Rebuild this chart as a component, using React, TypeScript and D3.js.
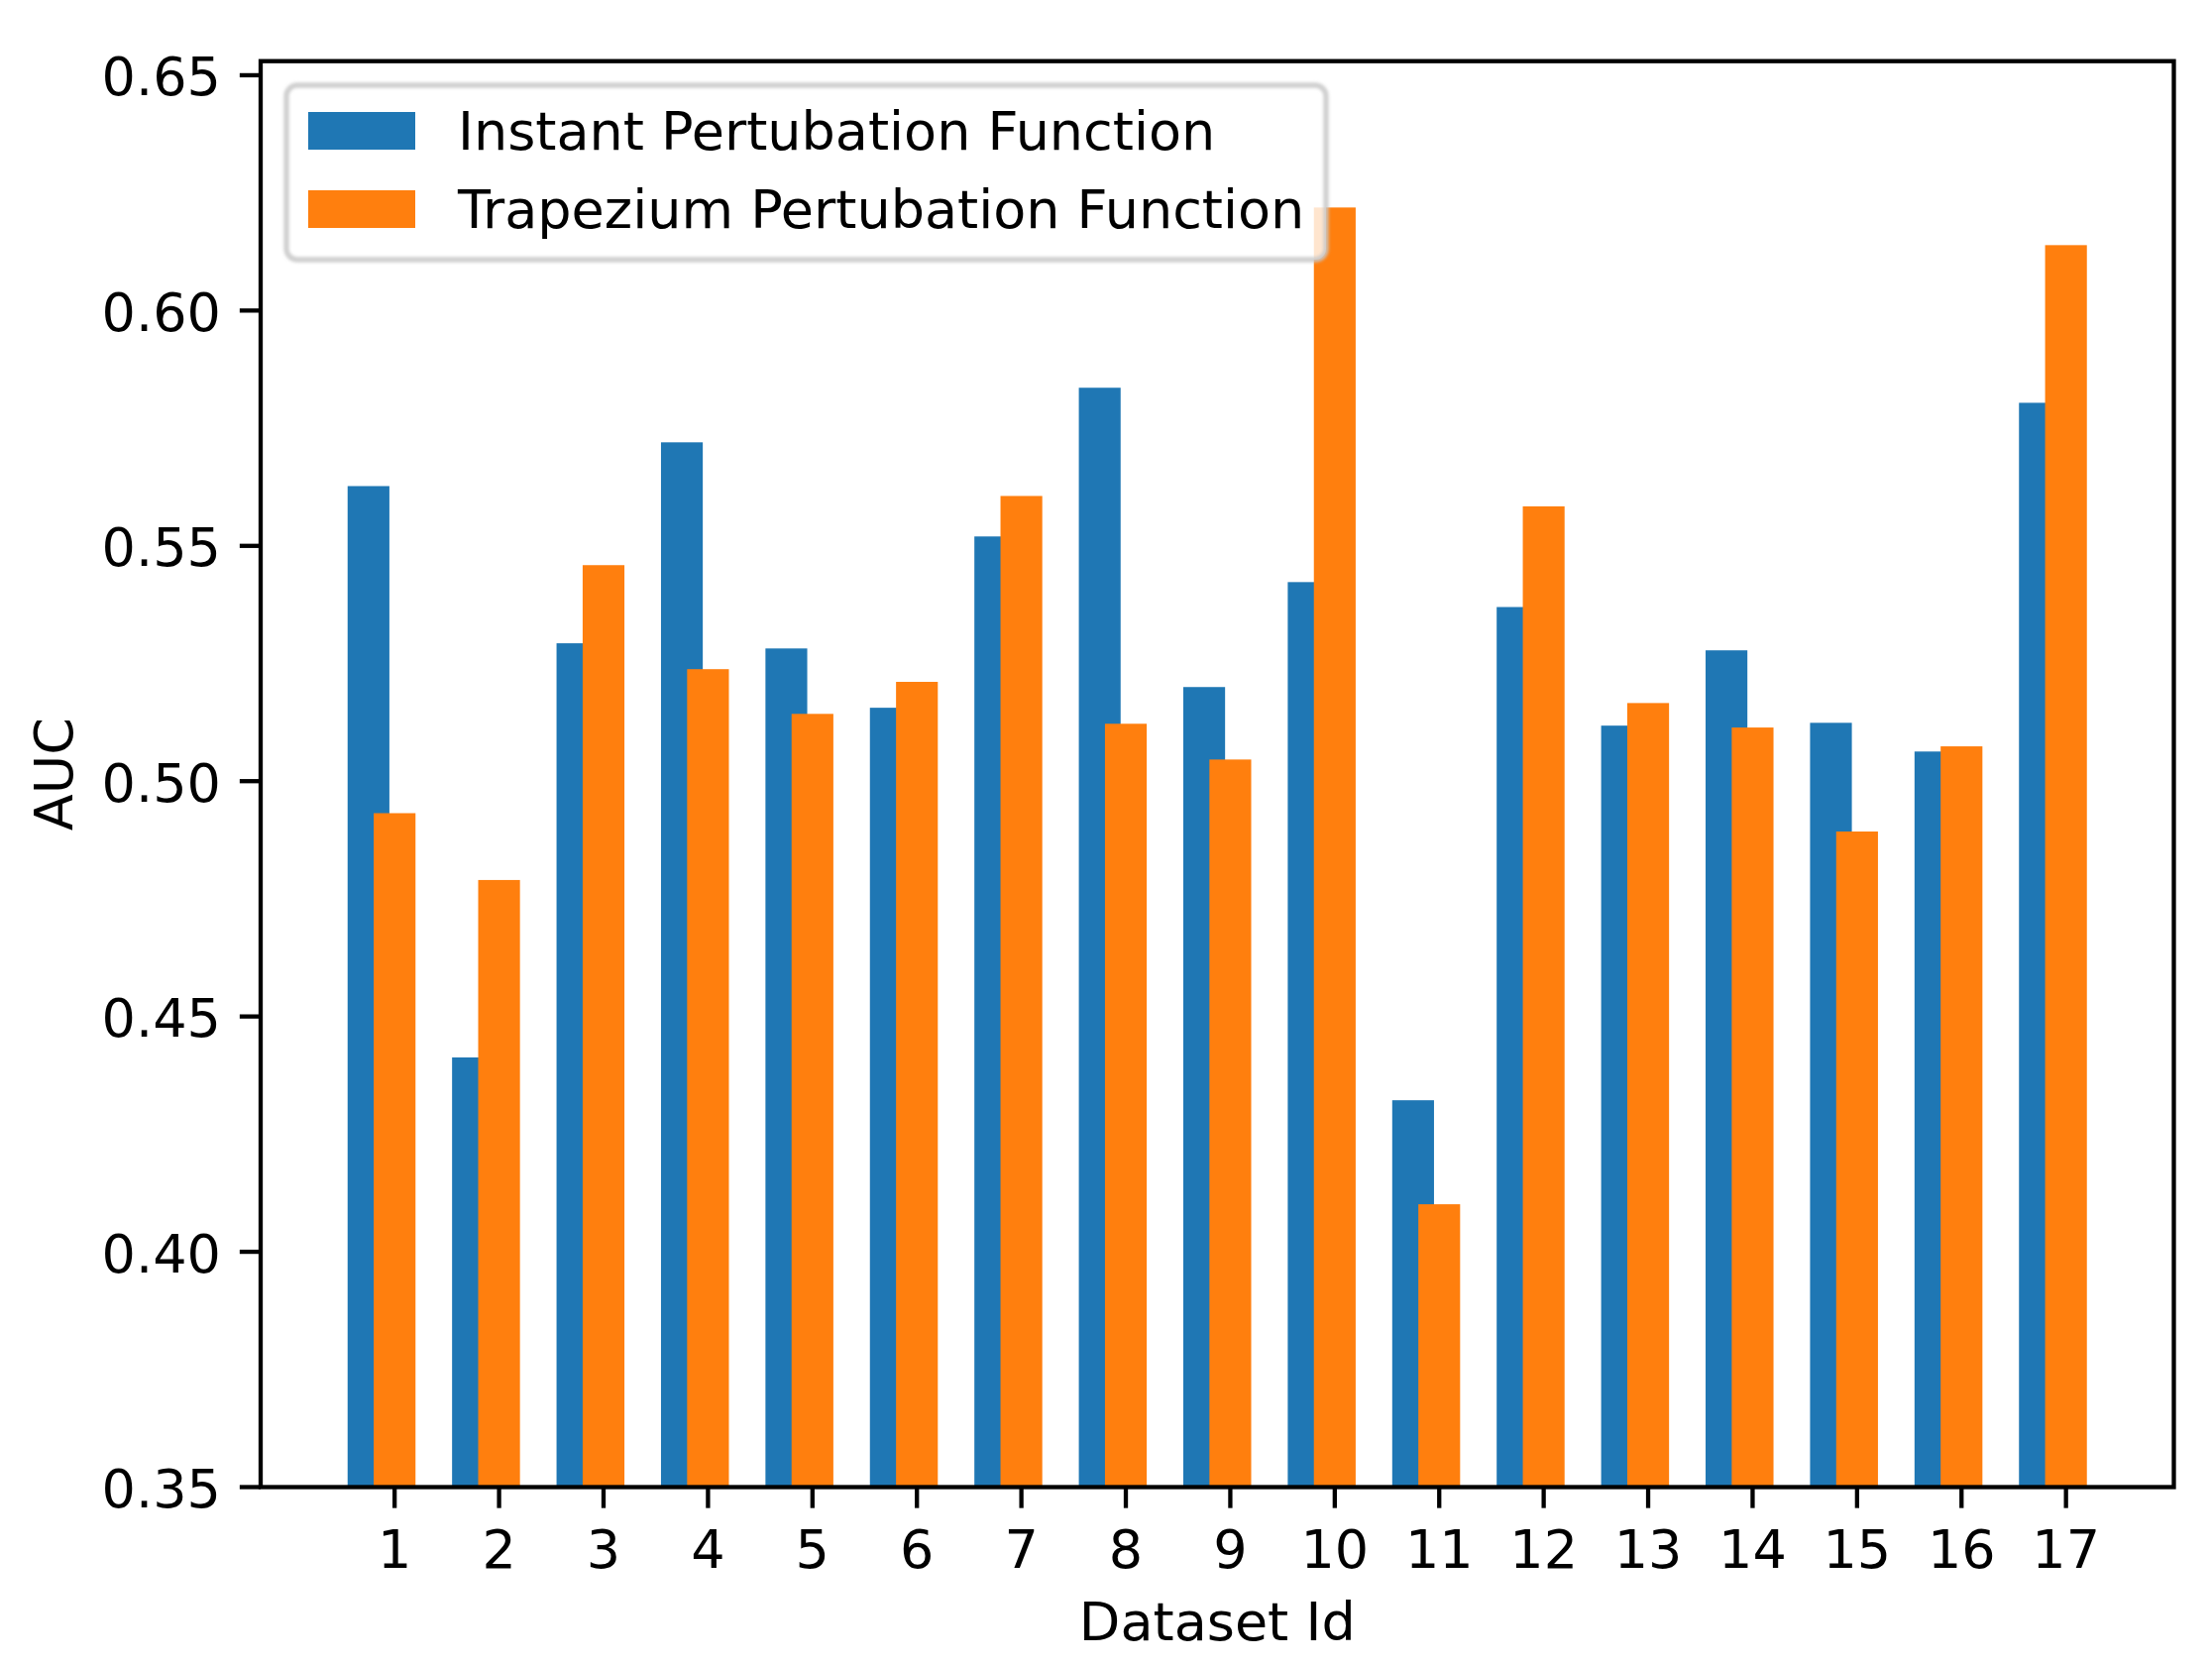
import React from "react";
import * as d3 from "d3";

const categories = ["1","2","3","4","5","6","7","8","9","10","11","12","13","14","15","16","17"];
const instantValues = [0.5627,0.4413,0.5293,0.5720,0.5282,0.5156,0.5520,0.5836,0.5200,0.5423,0.4322,0.5370,0.5118,0.5278,0.5124,0.5063,0.5804];
const trapeziumValues = [0.4932,0.4790,0.5459,0.5238,0.5143,0.5211,0.5606,0.5122,0.5046,0.6219,0.4101,0.5584,0.5166,0.5114,0.4893,0.5074,0.6139];
const yTicks = [0.35,0.40,0.45,0.50,0.55,0.60,0.65];
const seriesNames = ["Instant Pertubation Function","Trapezium Pertubation Function"];
const seriesColors = ["#1f77b4","#ff7f0e"];

const W = 2232, H = 1679;
const left = 263, right = 2193.5, top = 61.7, bottom = 1500.5;
const FS = 54;
const LW = 4.3;
const TL = 19;
const FONT = "'DejaVu Sans', sans-serif";

export default function App() {
  const n = categories.length;
  const xmin = 1 - 0.45, xmax = n + 0.2;
  const m = 0.05 * (xmax - xmin);
  const x = d3.scaleLinear().domain([xmin - m, xmax + m]).range([left, right]);
  const yTop = d3.max(trapeziumValues.concat(instantValues)) as number * 1.05;
  const y = d3.scaleLinear().domain([0.35, yTop]).range([bottom, top]);
  const fmt = d3.format(".2f");
  const bw = 0.4;

  return (
    <svg width={W} height={H} style={{ position: "absolute", left: 0, top: 0, background: "#fff" }} fontFamily={FONT}>
      <rect x={0} y={0} width={W} height={H} fill="#fff" />
      <defs>
        <clipPath id="plotclip">
          <rect x={left} y={top} width={right - left} height={bottom - top} />
        </clipPath>
        <filter id="soft" x="-5%" y="-20%" width="110%" height="140%">
          <feGaussianBlur stdDeviation="1.6" />
        </filter>
      </defs>
      <g clipPath="url(#plotclip)">
        {categories.map((c, i) => {
          const xc = i + 1;
          return (
            <rect key={"b" + c} x={x(xc - 0.25 - bw / 2)} width={x(xc - 0.25 + bw / 2) - x(xc - 0.25 - bw / 2)}
              y={y(instantValues[i])} height={bottom - y(instantValues[i])} fill={seriesColors[0]} />
          );
        })}
        {categories.map((c, i) => {
          const xc = i + 1;
          return (
            <rect key={"o" + c} x={x(xc - bw / 2)} width={x(xc + bw / 2) - x(xc - bw / 2)}
              y={y(trapeziumValues[i])} height={bottom - y(trapeziumValues[i])} fill={seriesColors[1]} />
          );
        })}
      </g>
      {/* spines */}
      <rect x={left} y={top} width={right - left} height={bottom - top} fill="none" stroke="#000" strokeWidth={LW} strokeLinejoin="miter" />
      {/* x ticks */}
      {categories.map((c, i) => (
        <g key={"xt" + c}>
          <line x1={x(i + 1)} x2={x(i + 1)} y1={bottom} y2={bottom + LW / 2 + TL} stroke="#000" strokeWidth={LW} />
          <text x={x(i + 1)} y={1582} fontSize={FS} textAnchor="middle" fill="#000">{c}</text>
        </g>
      ))}
      {/* y ticks */}
      {yTicks.map((t) => (
        <g key={"yt" + t}>
          <line x1={left} x2={left - LW / 2 - TL} y1={y(t)} y2={y(t)} stroke="#000" strokeWidth={LW} />
          <text x={left - LW / 2 - TL - 19} y={y(t) + 20.5} fontSize={FS} textAnchor="end" fill="#000">{fmt(t)}</text>
        </g>
      ))}
      <text x={(left + right) / 2} y={1655} fontSize={FS} textAnchor="middle" fill="#000">Dataset Id</text>
      <text transform={`translate(73,${(top + bottom) / 2}) rotate(-90)`} fontSize={FS} textAnchor="middle" fill="#000">AUC</text>
      {/* legend */}
      <g>
        <rect x={289} y={86} width={1338 - 289} height={262 - 86} rx={11} ry={11} fill="#fff" fillOpacity={0.8} stroke="none" />
        <rect x={289} y={86} width={1338 - 289} height={262 - 86} rx={11} ry={11} fill="none" stroke="#c8c8c8" strokeOpacity={0.85} strokeWidth={5.4} filter="url(#soft)" />
        {seriesNames.map((s, i) => (
          <g key={s}>
            <rect x={311} y={113 + i * 79} width={108} height={38} fill={seriesColors[i]} />
            <text x={462} y={151 + i * 79} fontSize={FS} fill="#000">{s}</text>
          </g>
        ))}
      </g>
    </svg>
  );
}
